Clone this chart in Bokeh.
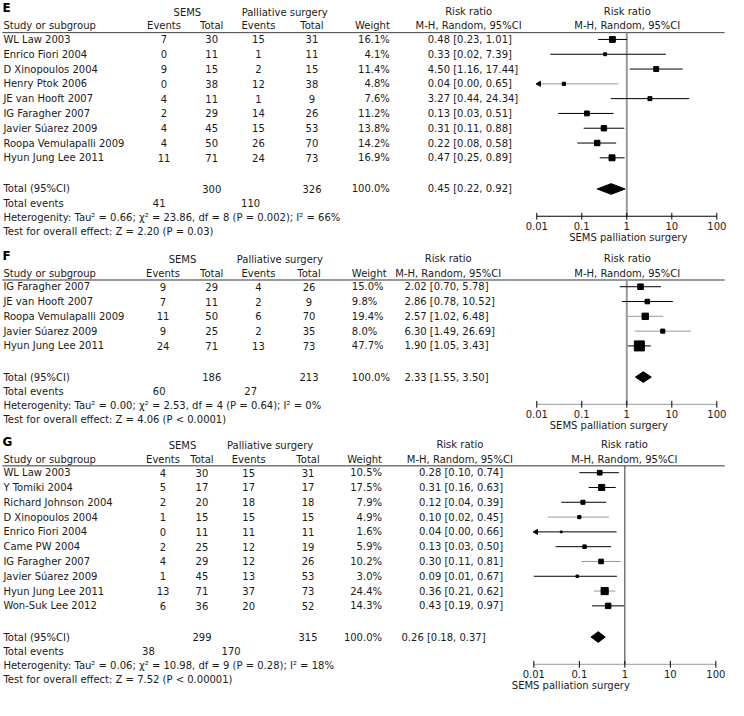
import math
from bokeh.plotting import figure
from bokeh.models import Range1d, LogScale
from bokeh.core.properties import value
from bokeh.embed import file_html
from bokeh.resources import INLINE

# ---------------- data ----------------
# Panel E
E_studies = ["WL Law 2003", "Enrico Fiori 2004", "D Xinopoulos 2004", "Henry Ptok 2006",
             "JE van Hooft 2007", "IG Faragher 2007", "Javier Súarez 2009",
             "Roopa Vemulapalli 2009", "Hyun Jung Lee 2011"]
E_sems_events = [7, 0, 9, 0, 4, 2, 4, 4, 11]
E_sems_total = [30, 11, 15, 38, 11, 29, 45, 50, 71]
E_pal_events = [15, 1, 2, 12, 1, 14, 15, 26, 24]
E_pal_total = [31, 11, 15, 38, 9, 26, 53, 70, 73]
E_weight = [16.1, 4.1, 11.4, 4.8, 7.6, 11.2, 13.8, 14.2, 16.9]
E_rr = [0.48, 0.33, 4.50, 0.04, 3.27, 0.13, 0.31, 0.22, 0.47]
E_lo = [0.23, 0.02, 1.16, 0.00, 0.44, 0.03, 0.11, 0.08, 0.25]
E_hi = [1.01, 7.39, 17.44, 0.65, 24.34, 0.51, 0.88, 0.58, 0.89]
E_totals = [300, 326]
E_total_events = [41, 110]
E_pooled = [0.45, 0.22, 0.92]
E_het = "Heterogenity: Tau² = 0.66; χ² = 23.86, df = 8 (P = 0.002); I² = 66%"
E_test = "Test for overall effect: Z = 2.20 (P = 0.03)"

# Panel F
F_studies = ["IG Faragher 2007", "JE van Hooft 2007", "Roopa Vemulapalli 2009",
             "Javier Súarez 2009", "Hyun Jung Lee 2011"]
F_sems_events = [9, 7, 11, 9, 24]
F_sems_total = [29, 11, 50, 25, 71]
F_pal_events = [4, 2, 6, 2, 13]
F_pal_total = [26, 9, 70, 35, 73]
F_weight = [15.0, 9.8, 19.4, 8.0, 47.7]
F_rr = [2.02, 2.86, 2.57, 6.30, 1.90]
F_lo = [0.70, 0.78, 1.02, 1.49, 1.05]
F_hi = [5.78, 10.52, 6.48, 26.69, 3.43]
F_totals = [186, 213]
F_total_events = [60, 27]
F_pooled = [2.33, 1.55, 3.50]
F_het = "Heterogenity: Tau² = 0.00; χ² = 2.53, df = 4 (P = 0.64); I² = 0%"
F_test = "Test for overall effect: Z = 4.06 (P < 0.0001)"

# Panel G
G_studies = ["WL Law 2003", "Y Tomiki 2004", "Richard Johnson 2004", "D Xinopoulos 2004",
             "Enrico Fiori 2004", "Came PW 2004", "IG Faragher 2007", "Javier Súarez 2009",
             "Hyun Jung Lee 2011", "Won-Suk Lee 2012"]
G_sems_events = [4, 5, 2, 1, 0, 2, 4, 1, 13, 6]
G_sems_total = [30, 17, 20, 15, 11, 25, 29, 45, 71, 36]
G_pal_events = [15, 17, 18, 15, 11, 12, 12, 13, 37, 20]
G_pal_total = [31, 17, 18, 15, 11, 19, 26, 53, 73, 52]
G_weight = [10.5, 17.5, 7.9, 4.9, 1.6, 5.9, 10.2, 3.0, 24.4, 14.3]
G_rr = [0.28, 0.31, 0.12, 0.10, 0.04, 0.13, 0.30, 0.09, 0.36, 0.43]
G_lo = [0.10, 0.16, 0.04, 0.02, 0.00, 0.03, 0.11, 0.01, 0.21, 0.19]
G_hi = [0.74, 0.63, 0.39, 0.45, 0.66, 0.50, 0.81, 0.67, 0.62, 0.97]
G_totals = [299, 315]
G_total_events = [38, 170]
G_pooled = [0.26, 0.18, 0.37]
G_het = "Heterogenity: Tau² = 0.06; χ² = 10.98, df = 9 (P = 0.28); I² = 18%"
G_test = "Test for overall effect: Z = 7.52 (P < 0.00001)"

tick_values = [0.01, 0.1, 1, 10, 100]
tick_labels = ["0.01", "0.1", "1", "10", "100"]
axis_title = "SEMS palliation surgery"

# ---------------- styles ----------------
GREY = "#999999"
E_ci_colors = ["black", "black", "black", GREY, "black", "black", "black", "black", "black"]
F_ci_colors = ["black", "black", GREY, GREY, "black"]
G_ci_colors = ["black", "black", "black", GREY, "black", "black", GREY, "black", GREY, "black"]

# ---------------- canvas ----------------
X0, X1 = 0, 748
Y0, Y1 = -3, 716
p = figure(width=728, height=700, x_range=Range1d(X0, X1), y_range=Range1d(Y1, Y0),
           output_backend="svg", toolbar_location=None, min_border=0,
           x_axis_location=None, y_axis_location=None)
p.outline_line_color = None
p.grid.visible = False
p.background_fill_color = "white"


def log_range(x001, x100):
    dec = (x100 - x001) / 4.0
    lo = -2 - (x001 - X0) / dec
    hi = lo + (X1 - X0) / dec
    return Range1d(10 ** lo, 10 ** hi)


p.extra_x_ranges = {"rrEF": log_range(551, 736), "rrG": log_range(548, 735)}
p.extra_x_scales = {"rrEF": LogScale(), "rrG": LogScale()}

FONT = value("DejaVu Sans")
FS = "10px"
TXT = "#1a1a1a"


def texts(xs, ys, ss, align="left", size=FS, bold=False, color=TXT, rname=None):
    kw = {}
    if rname:
        kw["x_range_name"] = rname
    p.text(x=list(xs), y=list(ys), text=[str(s) for s in ss], text_align=align,
           text_baseline="middle", text_font=FONT, text_font_size=size,
           text_font_style="bold" if bold else "normal", text_color=color, **kw)


def panel(base, letter, studies, sev, stot, pev, ptot, wt, rr, lo, hi, totals, tev,
          pooled, het, test, L, rname, ci_colors):
    n = len(studies)
    pitch = 15.2
    ys = [base + 37 + i * pitch for i in range(n)]
    yt = ys[-1] + 32
    fp = 14.5
    ay = yt + 28

    # headers
    texts([2], [base + 5], [letter], size="12px", bold=True, color="black")
    texts([L["sems_h"], L["pal_h"]], [base + 9] * 2, ["SEMS", "Palliative surgery"], align="center")
    texts([L["rr_h"], L["fp_h"]], [base + 8] * 2, ["Risk ratio", "Risk ratio"], align="center")
    texts([3], [base + 23], ["Study or subgroup"])
    texts([L["sev"], L["stot"], L["pev"], L["ptot"]], [base + 23] * 4,
          ["Events", "Total", "Events", "Total"], align="center")
    texts([L["w"]], [base + 23], ["Weight"], align=L["w_align"])
    texts([L["rr_h"], L["fp_h"]], [base + 23] * 2,
          ["M-H, Random, 95%CI", "M-H, Random, 95%CI"], align="center")
    p.segment(x0=[2], x1=[744], y0=[base + 30], y1=[base + 30],
              line_color=L["hline_color"], line_width=L["hline_w"])

    # rows
    texts([3] * n, ys, studies)
    texts([L["sev"]] * n, ys, sev, align="center")
    texts([L["stot"]] * n, ys, stot, align="center")
    texts([L["pev"]] * n, ys, pev, align="center")
    texts([L["ptot"]] * n, ys, ptot, align="center")
    texts([L["w"]] * n, ys, [f"{w:.1f}%" for w in wt], align=L["w_align"])
    texts([L["rr"]] * n, ys, [f"{r:.2f} [{a:.2f}, {b:.2f}]" for r, a, b in zip(rr, lo, hi)])

    # totals
    texts([3], [yt], ["Total (95%CI)"])
    texts([L["stot"], L["ptot"]], [yt] * 2, totals, align="center")
    texts([L["w"]], [yt], ["100.0%"], align=L["w_align"])
    texts([L["rr_tot"]], [yt], [f"{pooled[0]:.2f} [{pooled[1]:.2f}, {pooled[2]:.2f}]"])
    texts([3], [yt + fp], ["Total events"])
    texts([L["tev1"], L["tev2"]], [yt + fp] * 2, tev, align="center")
    texts([3], [yt + 2 * fp], [het])
    texts([3], [yt + 3 * fp], [test])

    # forest plot
    xmin = tick_values[0]
    p.segment(x0=[1], x1=[1], y0=[base + 30], y1=[ay], line_color=L["vline_color"],
              line_width=L["vline_w"], x_range_name=rname)
    lo_c = [max(a, xmin) for a in lo]
    p.segment(x0=lo_c, x1=hi, y0=ys, y1=ys, line_color=ci_colors, line_width=1,
              x_range_name=rname)
    arrows = [y for a, y in zip(lo, ys) if a < xmin]
    if arrows:
        p.scatter(x=[xmin * 1.12] * len(arrows), y=arrows, marker="triangle", size=5,
                  angle=math.pi / 2, color="black", x_range_name=rname)
    p.scatter(x=rr, y=ys, marker="square", size=[1.45 * math.sqrt(w) for w in wt],
              color="black", x_range_name=rname)
    p.patches(xs=[[pooled[1], pooled[0], pooled[2], pooled[0]]],
              ys=[[yt, yt - 5.5, yt, yt + 5.5]], color="black", x_range_name=rname)

    # axis
    p.segment(x0=[tick_values[0]], x1=[tick_values[-1]], y0=[ay], y1=[ay],
              line_color=L["axis_color"], line_width=1, x_range_name=rname)
    p.segment(x0=tick_values, x1=tick_values, y0=[ay - 3.5] * 5, y1=[ay + 3.5] * 5,
              line_color="black", line_width=1, x_range_name=rname)
    texts(tick_values, [ay + 10] * 5, tick_labels, align="center", rname=rname)
    texts([L["axlab"]], [ay + 21.5], [axis_title], align="center")


LE = dict(sems_h=192, pal_h=292, sev=168, stot=217, pev=265, ptot=320, w=400, w_align="right",
          rr=439, rr_tot=439, rr_h=481, fp_h=644, tev1=163, tev2=257, axlab=645,
          hline_color="#444444", hline_w=1, vline_color=GREY, vline_w=2, axis_color="black")
LF = dict(sems_h=187, pal_h=287, sev=167, stot=217, pev=265, ptot=317, w=361, w_align="left",
          rr=415, rr_tot=415, rr_h=460, fp_h=644, tev1=163, tev2=257, axlab=625,
          hline_color=GREY, hline_w=2, vline_color=GREY, vline_w=2, axis_color=GREY)
LG = dict(sems_h=187, pal_h=277, sev=167, stot=207, pev=255, ptot=316, w=392, w_align="right",
          rr=430, rr_tot=412, rr_h=472, fp_h=641, tev1=152, tev2=237, axlab=586,
          hline_color="#333333", hline_w=1, vline_color="#333333", vline_w=1, axis_color=GREY)

panel(0, "E", E_studies, E_sems_events, E_sems_total, E_pal_events, E_pal_total, E_weight,
      E_rr, E_lo, E_hi, E_totals, E_total_events, E_pooled, E_het, E_test, LE, "rrEF", E_ci_colors)
panel(254, "F", F_studies, F_sems_events, F_sems_total, F_pal_events, F_pal_total, F_weight,
      F_rr, F_lo, F_hi, F_totals, F_total_events, F_pooled, F_het, F_test, LF, "rrEF", F_ci_colors)
panel(445, "G", G_studies, G_sems_events, G_sems_total, G_pal_events, G_pal_total, G_weight,
      G_rr, G_lo, G_hi, G_totals, G_total_events, G_pooled, G_het, G_test, LG, "rrG", G_ci_colors)

open("out.html", "w").write(file_html(p, INLINE))
